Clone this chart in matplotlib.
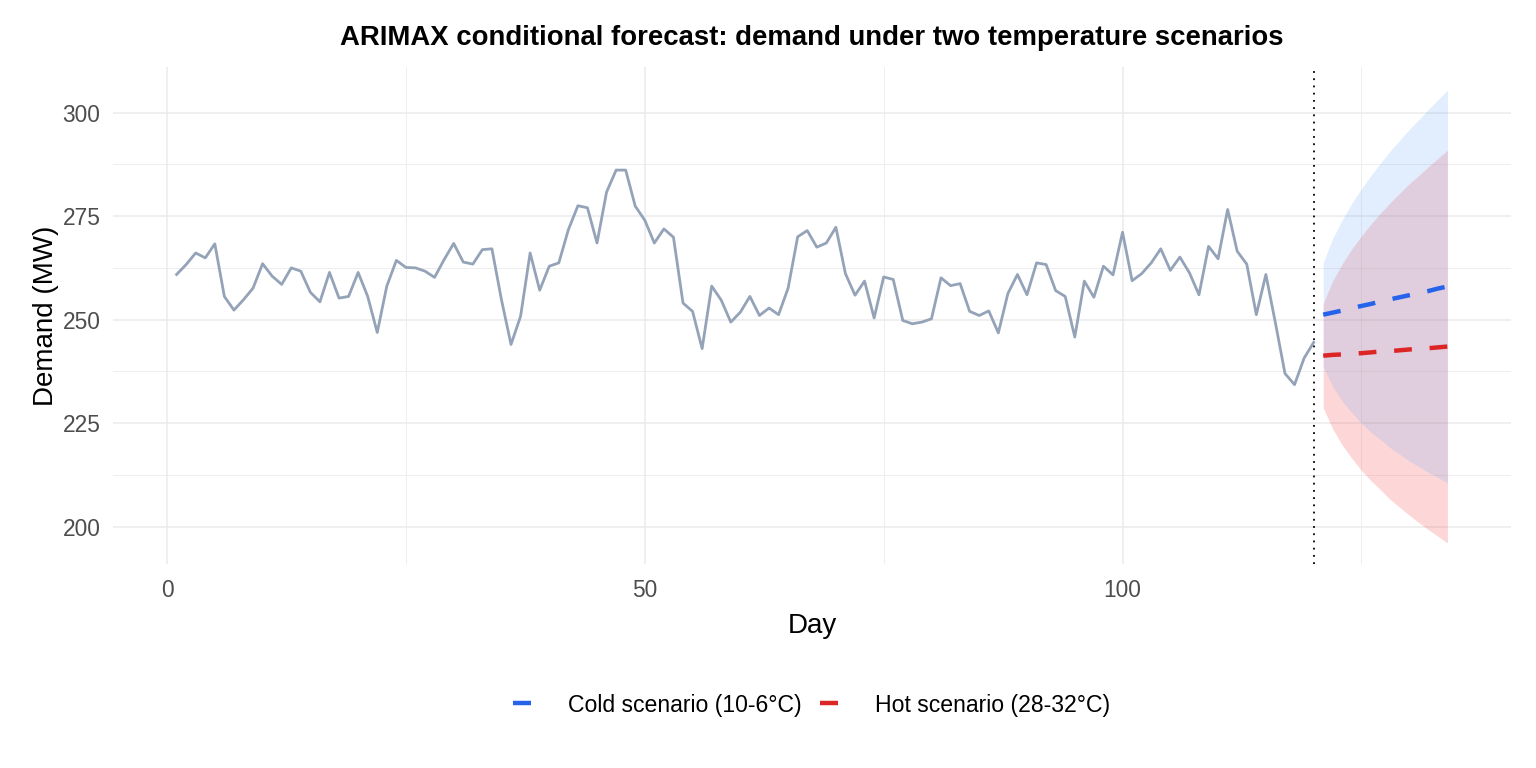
import numpy as np
import matplotlib.pyplot as plt
from matplotlib.lines import Line2D
from matplotlib.ticker import MultipleLocator

plt.rcParams['font.family'] = ['Liberation Sans', 'DejaVu Sans']

# observed daily demand, days 1..120
demand = [
    260.9, 263.3, 266.1, 264.9, 268.3, 255.6, 252.3, 254.8, 257.6, 263.5,
    260.5, 258.5, 262.5, 261.7, 256.6, 254.3, 261.4, 255.2, 255.6, 261.4,
    255.6, 246.9, 258.1, 264.3, 262.6, 262.5, 261.7, 260.2, 264.5, 268.4,
    263.9, 263.4, 266.9, 267.1, 254.8, 244.0, 250.8, 266.1, 257.1, 262.9,
    263.7, 271.7, 277.5, 277.0, 268.5, 280.8, 286.1, 286.1, 277.4, 274.0,
    268.5, 271.9, 269.9, 254.0, 252.0, 243.0, 258.1, 254.7, 249.4, 251.8,
    255.6, 251.0, 252.8, 251.2, 257.6, 270.0, 271.5, 267.5, 268.5, 272.3,
    261.1, 255.9, 259.3, 250.4, 260.3, 259.7, 249.8, 249.0, 249.4, 250.2,
    260.1, 258.2, 258.7, 252.0, 251.0, 252.1, 246.8, 256.3, 260.9, 256.0,
    263.7, 263.3, 257.0, 255.6, 245.8, 259.3, 255.4, 262.9, 260.8, 271.1,
    259.4, 261.1, 263.7, 267.1, 261.9, 265.1, 261.3, 256.0, 267.7, 264.7,
    276.6, 266.5, 263.4, 251.2, 260.9, 249.2, 237.0, 234.3, 240.7, 244.5,
]
days = np.arange(1, len(demand) + 1)

# forecast horizon, days 121..134
fc_days = np.arange(121, 135)

cold_mean = [251.2, 251.7, 252.2, 252.8, 253.3, 253.8, 254.4,
             254.9, 255.4, 255.9, 256.4, 256.9, 257.5, 258.0]
cold_lo = [238.6, 233.8, 230.3, 227.5, 225.0, 222.8, 221.0,
           219.1, 217.5, 215.9, 214.5, 213.1, 211.9, 210.6]
cold_hi = [263.8, 269.6, 274.1, 278.1, 281.6, 284.8, 287.8,
           290.7, 293.3, 295.9, 298.3, 300.7, 303.1, 305.4]

hot_mean = [241.3, 241.5, 241.6, 241.8, 241.9, 242.1, 242.3,
            242.4, 242.6, 242.8, 242.9, 243.1, 243.3, 243.5]
hot_lo = [228.7, 223.6, 219.7, 216.5, 213.6, 211.1, 208.9,
          206.6, 204.7, 202.8, 201.0, 199.3, 197.7, 196.1]
hot_hi = [253.9, 259.4, 263.5, 267.1, 270.2, 273.1, 275.7,
          278.2, 280.5, 282.8, 284.8, 286.9, 288.9, 290.9]

cold_col = "#2563EB"
hot_col = "#DC2626"

fig = plt.figure(figsize=(15.36, 7.68), dpi=100)
ax = fig.add_axes([0.0736, 0.2656, 0.9101, 0.6472])

ax.fill_between(fc_days, hot_lo, hot_hi, color="#F87171", alpha=0.28, lw=0)
ax.fill_between(fc_days, cold_lo, cold_hi, color="#60A5FA", alpha=0.18, lw=0)

ax.plot(days, demand, color="#94A3B8", lw=2.0)
ax.axvline(120, color="black", lw=1.3, ls=(0, (1, 3)))

ax.plot(fc_days, cold_mean, color=cold_col, lw=3.2, dashes=(4, 4))
ax.plot(fc_days, hot_mean, color=hot_col, lw=3.2, dashes=(4, 4))

ax.set_xlim(-5.65, 140.65)
ax.set_ylim(191, 311)
ax.xaxis.set_major_locator(MultipleLocator(50))
ax.xaxis.set_minor_locator(MultipleLocator(25))
ax.yaxis.set_major_locator(MultipleLocator(25))
ax.yaxis.set_minor_locator(MultipleLocator(12.5))
ax.grid(which="major", color="#EBEBEB", lw=1.1)
ax.grid(which="minor", color="#EBEBEB", lw=0.6)
ax.set_axisbelow(True)
for s in ax.spines.values():
    s.set_visible(False)
ax.tick_params(which="both", length=0)
ax.tick_params(axis="x", pad=11, labelsize=16.4, labelcolor="#4D4D4D")
ax.tick_params(axis="y", pad=9, labelsize=16.4, labelcolor="#4D4D4D")

ax.set_xlabel("Day", fontsize=20, labelpad=8)
ax.set_ylabel("Demand (MW)", fontsize=20, labelpad=3)

fig.text(0.5286, 0.951, "ARIMAX conditional forecast: demand under two temperature scenarios",
         ha="center", va="center", fontsize=19.8, fontweight="bold")

handles = [Line2D([], [], color=cold_col, lw=3.2, solid_capstyle="butt"),
           Line2D([], [], color=hot_col, lw=3.2, solid_capstyle="butt")]
fig.legend(handles, ["Cold scenario (10-6°C)", "Hot scenario (28-32°C)"],
           loc="center", bbox_to_anchor=(0.5286, 0.082), ncol=2, frameon=False,
           fontsize=16.6, handlelength=0.78, handletextpad=1.6, columnspacing=0.8)

fig.savefig("out.png", dpi=100)
